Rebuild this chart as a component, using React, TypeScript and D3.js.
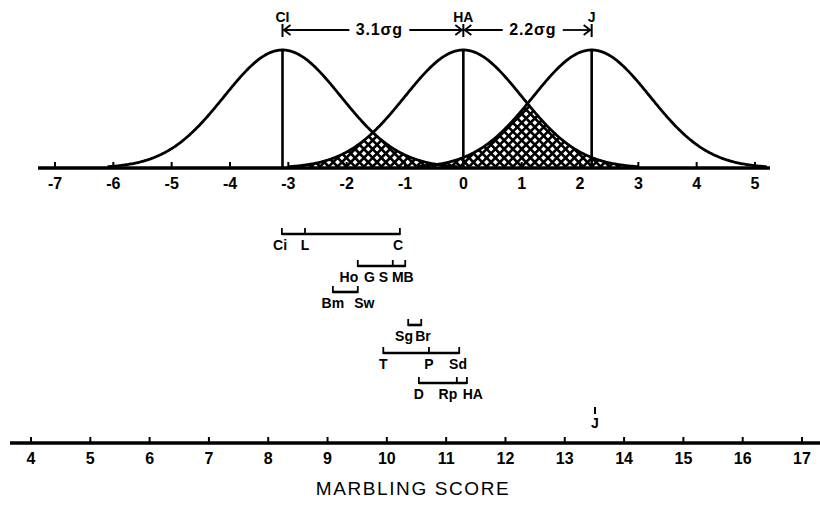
import React from 'react';
import * as d3 from 'd3';

const W = 820;
const H = 508;

// breed genetic means, in sigma-g units from HA
const breedMeans = [-3.1, 0, 2.2];
const breedNames = ['CI', 'HA', 'J'];
const gapLabels = ['3.1σg', '2.2σg'];

const sigmaTicks = d3.range(-7, 6);
const scoreTicks = d3.range(4, 18);

// breed group ranges on the marbling score scale
const rowTicks = [
  [8.23, 8.62, 10.22],
  [9.51, 10.1, 10.31],
  [9.09, 9.51],
  [10.36, 10.58],
  [9.94, 10.71, 11.22],
  [10.54, 11.18, 11.35],
];
const rowNames = [
  ['Ci', 'L', 'C'],
  ['Ho', 'G S', 'MB'],
  ['Bm', 'Sw'],
  ['Sg', 'Br'],
  ['T', 'P', 'Sd'],
  ['D', 'Rp', 'HA'],
];
const rowNameAt = [
  [8.2, 8.62, 10.19],
  [9.36, 9.82, 10.27],
  [9.09, 9.62],
  [10.29, 10.61],
  [9.94, 10.71, 11.2],
  [10.54, 11.03, 11.45],
];
const jerseyScore = 13.51;

// layout
const topBase = 168;
const peakY = 50;
const rowY = [234, 266, 292, 325, 353, 383];
const bottomBase = 443;
const font = "'Liberation Sans', Arial, sans-serif";

const App = () => {
  const xs = d3.scaleLinear().domain([-7, 5]).range([55, 755]);
  const xm = d3.scaleLinear().domain([4, 17]).range([31, 802]);
  const y = d3.scaleLinear().domain([0, 1]).range([topBase, peakY]);

  const dens = (mu: number) => (v: number) => Math.exp(-((v - mu) ** 2) / 2);
  const fs = breedMeans.map(dens);

  const curves = breedMeans.map((mu, i) => {
    const pts = d3.range(mu - 3, Math.min(mu + 3, 5.25) + 0.001, 0.02);
    return d3.line<number>().x(v => xs(v)).y(v => y(fs[i](v)))(pts);
  });

  // shaded overlap between neighbouring distributions
  const hatchPts = d3.range(-4.6, 3.6, 0.02);
  const overlap = (v: number) =>
    Math.max(Math.min(fs[0](v), fs[1](v)), Math.min(fs[1](v), fs[2](v)));
  const hatch = d3
    .area<number>()
    .x(v => xs(v))
    .y0(topBase)
    .y1(v => y(overlap(v)))(hatchPts);

  const arrowY = 30;
  const gaps = [
    { a: xs(breedMeans[0]), b: xs(breedMeans[1]), tx: xs(-1.44), l: gapLabels[0] },
    { a: xs(breedMeans[1]), b: xs(breedMeans[2]), tx: xs(1.19), l: gapLabels[1] },
  ];

  const headL = (x: number) => `M${x + 8},${arrowY - 5} L${x + 1.5},${arrowY} L${x + 8},${arrowY + 5}`;
  const headR = (x: number) => `M${x - 8},${arrowY - 5} L${x - 1.5},${arrowY} L${x - 8},${arrowY + 5}`;

  return (
    <svg width={W} height={H} style={{ position: 'absolute', left: 0, top: 0, background: '#fff' }}
      fontFamily={font}>
      <defs>
        <pattern id="xhatch" width="6.2" height="6.2" patternUnits="userSpaceOnUse"
          patternTransform="rotate(45)">
          <rect width="6.2" height="6.2" fill="#fff" />
          <path d="M0,3.1 H6.2 M3.1,0 V6.2" stroke="#000" strokeWidth="2.6" />
        </pattern>
      </defs>

      {/* overlap areas */}
      <path d={hatch ?? ''} fill="url(#xhatch)" />

      {/* distribution curves */}
      {curves.map((d, i) => (
        <path key={i} d={d ?? ''} fill="none" stroke="#000" strokeWidth={2.8} />
      ))}
      {breedMeans.map((mu, i) => (
        <line key={i} x1={xs(mu)} x2={xs(mu)} y1={topBase} y2={y(1)} stroke="#000" strokeWidth={2.6} />
      ))}

      {/* sigma-g axis */}
      <line x1={38} x2={770} y1={topBase} y2={topBase} stroke="#000" strokeWidth={3.4} />
      {sigmaTicks.map(t => (
        <g key={t}>
          <line x1={xs(t)} x2={xs(t)} y1={topBase} y2={topBase - 6} stroke="#000" strokeWidth={2} />
          <text x={xs(t)} y={topBase + 21} textAnchor="middle" fontSize={16} fontWeight="bold">
            {t < 0 ? `-${-t}` : `${t}`}
          </text>
        </g>
      ))}

      {/* breed labels and separation arrows */}
      {breedMeans.map((mu, i) => (
        <g key={i}>
          <text x={xs(mu)} y={22} textAnchor="middle" fontSize={14} fontWeight="bold">{breedNames[i]}</text>
          <line x1={xs(mu)} x2={xs(mu)} y1={arrowY - 6} y2={arrowY + 7} stroke="#000" strokeWidth={2} />
        </g>
      ))}
      {gaps.map((g, i) => (
        <g key={i} fill="none" stroke="#000" strokeWidth={1.8}>
          <line x1={g.a + 1} x2={g.tx - 30} y1={arrowY} y2={arrowY} />
          <line x1={g.tx + 30} x2={g.b - 1} y1={arrowY} y2={arrowY} />
          <path d={headL(g.a)} />
          <path d={headR(g.b)} />
          <text x={g.tx} y={arrowY + 5} textAnchor="middle" fontSize={16} fontWeight="bold"
            letterSpacing={0.8} fill="#000" stroke="none">{g.l}</text>
        </g>
      ))}

      {/* breed group ranges */}
      {rowTicks.map((ticks, r) => (
        <g key={r}>
          <line x1={xm(d3.min(ticks)!)} x2={xm(d3.max(ticks)!)} y1={rowY[r]} y2={rowY[r]}
            stroke="#000" strokeWidth={2.6} />
          {ticks.map((t, k) => (
            <line key={k} x1={xm(t)} x2={xm(t)} y1={rowY[r] + 1} y2={rowY[r] - 6}
              stroke="#000" strokeWidth={1.8} />
          ))}
          {rowNames[r].map((n, k) => (
            <text key={k} x={xm(rowNameAt[r][k])} y={rowY[r] + 16} textAnchor="middle"
              fontSize={14} fontWeight="bold">{n}</text>
          ))}
        </g>
      ))}
      <line x1={xm(jerseyScore)} x2={xm(jerseyScore)} y1={407} y2={414} stroke="#000" strokeWidth={2} />
      <text x={xm(jerseyScore)} y={428} textAnchor="middle" fontSize={14} fontWeight="bold">J</text>

      {/* marbling score axis */}
      <line x1={10} x2={820} y1={bottomBase} y2={bottomBase} stroke="#000" strokeWidth={3.4} />
      {scoreTicks.map(t => (
        <g key={t}>
          <line x1={xm(t)} x2={xm(t)} y1={bottomBase} y2={bottomBase - 6} stroke="#000" strokeWidth={2} />
          <text x={xm(t)} y={bottomBase + 21} textAnchor="middle" fontSize={16} fontWeight="bold">{t}</text>
        </g>
      ))}
      <text x={413} y={495} textAnchor="middle" fontSize={19} letterSpacing={1.6}>MARBLING SCORE</text>
    </svg>
  );
};

export default App;
